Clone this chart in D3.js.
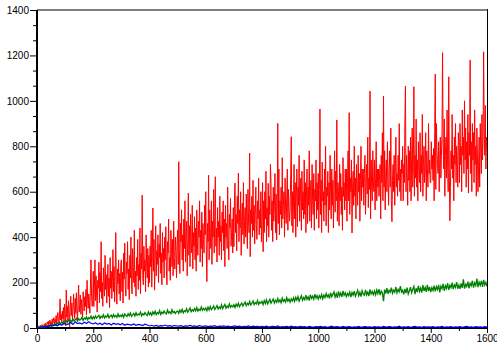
<!DOCTYPE html>
<html>
<head>
<meta charset="utf-8">
<script src="https://cdn.jsdelivr.net/npm/d3@7"></script>
<style>
  html, body { margin: 0; padding: 0; background: #ffffff; }
  svg { display: block; }
  .tick text { font-family: "Liberation Sans", Arial, Helvetica, sans-serif; font-size: 10px; fill: #000; }
</style>
</head>
<body>
<svg id="chart" width="497" height="347"></svg>
<script>
// Sample spacing (x units) for each series
const redStep = 2;
const greenStep = 4;
const blueStep = 8;

// Red series, one value every 2 x units from 0 to 1600
const redValues = [
  0,4,2,9,1,6,12,3,8,15,5,11,2,18,9,22,14,6,25,17,30,10,21,35,13,
  28,8,40,19,33,46,12,38,24,55,20,44,68,30,15,52,128,36,60,22,74,41,90,18,105,
  62,10,167,48,95,30,120,75,5,88,140,55,110,36,72,150,98,42,130,64,155,84,28,118,189,
  70,102,145,60,125,90,48,160,112,75,138,95,170,58,210,128,86,150,110,65,190,300,140,95,120,
  250,95,180,300,120,230,150,70,210,175,290,110,245,160,380,130,200,95,265,185,140,320,170,235,110,
  190,280,140,220,90,310,175,250,130,205,345,160,270,115,230,420,185,105,260,195,300,150,240,120,280,
  300,160,245,110,330,215,374,180,140,290,240,380,170,260,125,320,220,400,190,150,350,270,200,430,180,
  250,140,310,230,390,170,280,210,440,150,330,260,585,230,190,360,250,300,160,410,270,220,350,180,320,
  200,360,270,430,180,320,528,250,390,167,300,450,230,340,280,410,200,370,310,460,240,330,190,420,290,
  350,220,400,300,446,260,190,380,330,480,250,310,210,430,360,270,390,230,470,310,260,400,340,220,380,
  430,280,732,350,240,460,380,520,300,410,250,480,350,560,290,400,470,230,390,594,320,450,270,500,380,
  330,540,260,420,360,490,300,440,250,520,380,320,470,400,560,290,430,350,510,270,460,390,330,540,410,
  600,330,204,460,380,673,300,520,420,350,560,280,470,400,610,330,490,666,360,440,290,530,400,470,320,
  580,380,450,300,510,420,560,340,480,270,540,400,460,350,620,390,300,500,440,570,360,420,480,330,530,
  358,560,638,420,500,340,580,460,682,380,520,440,600,320,490,550,410,640,370,470,530,400,590,450,350,
  610,480,420,770,314,520,460,580,400,650,430,540,370,500,620,450,390,560,480,660,410,520,440,600,380,
  475,640,336,560,420,600,480,690,380,530,450,637,400,580,500,720,640,430,560,380,620,470,540,680,420,
  590,388,520,901,460,700,410,560,500,620,440,750,480,540,600,400,660,520,460,580,700,430,610,520,470,
  520,680,842,450,600,420,560,720,480,640,400,590,700,446,620,540,760,470,580,660,430,690,520,600,480,
  740,500,640,420,580,700,460,620,540,780,470,600,650,440,720,560,500,680,430,610,560,740,480,640,520,
  680,440,610,964,500,650,420,730,560,600,470,700,540,800,450,620,580,690,420,640,520,760,600,480,700,
  540,650,440,620,780,510,690,560,916,470,640,600,450,720,560,680,500,620,430,750,580,640,520,700,560,
  700,470,640,780,560,948,500,660,600,740,418,620,690,540,800,580,660,480,720,620,540,760,600,680,470,
  650,800,560,700,620,700,540,680,760,500,640,720,590,840,530,660,610,1043,480,740,620,560,780,640,600,
  740,520,660,820,560,700,620,700,580,680,720,480,760,640,860,560,1021,620,780,520,680,740,600,820,660,
  540,700,780,620,880,560,468,650,720,600,760,540,700,840,620,680,580,760,650,900,600,700,560,740,680,
  800,560,720,640,900,1065,600,760,680,540,800,650,780,600,840,560,740,880,620,700,1062,580,760,660,920,
  620,740,560,820,700,640,860,600,760,680,940,580,720,800,640,700,860,560,780,700,620,900,680,740,640,
  640,820,700,760,650,790,560,860,1118,610,900,780,720,680,820,600,740,840,660,760,860,1212,800,700,920,
  580,760,840,660,960,720,600,1106,700,472,620,780,700,940,660,760,560,840,720,900,640,800,740,620,860,
  820,640,900,720,800,600,960,760,840,680,1000,740,880,620,820,700,940,594,860,760,1180,680,820,600,900,
  740,860,640,960,720,800,580,880,760,600,700,840,620,900,780,680,940,740,820,1216,880,760,980,700,840,
  780
];

// Green series, one value every 4 x units from 0 to 1600
const greenValues = [
  0,3,1,6,2,8,3,10,5,7,12,6,14,9,16,11,19,13,22,15,24,18,26,20,29,
  23,32,25,36,28,34,27,39,31,36,42,30,41,35,38,47,34,44,39,49,36,46,41,52,40,
  49,41,53,44,50,56,42,51,46,58,44,53,48,60,45,52,57,46,59,49,55,47,62,50,56,
  50,59,47,62,55,51,63,54,66,52,58,64,53,67,56,61,58,70,54,63,57,68,60,55,71,
  58,67,56,71,61,74,59,68,63,77,60,70,64,75,66,62,79,66,71,63,80,67,73,64,72,
  75,65,79,69,82,67,76,72,85,70,78,88,72,81,74,86,76,90,74,83,77,92,78,86,79,
  88,76,92,80,95,81,87,97,82,90,99,84,93,86,102,85,95,104,87,97,90,106,91,99,93,
  102,90,105,95,109,94,103,110,97,106,114,98,109,102,117,101,109,119,103,112,106,121,104,114,109,
  117,103,121,108,124,106,116,126,109,119,128,110,122,113,130,114,124,111,132,117,125,114,134,118,127,
  114,128,119,133,117,135,123,138,118,131,142,122,134,125,145,126,137,121,147,130,140,127,149,132,143,
  127,142,132,147,128,145,134,152,137,146,130,156,138,148,159,136,151,133,161,141,154,137,163,144,155,
  139,152,143,158,136,156,145,162,140,153,166,142,157,138,164,149,144,168,146,158,141,170,150,161,147,
  163,146,167,151,171,145,162,154,118,169,152,175,150,166,158,178,153,167,157,181,155,170,160,184,158,
  166,148,172,154,178,150,164,180,155,170,183,149,175,158,186,161,176,156,189,163,179,159,190,162,181,
  158,178,165,187,161,182,169,190,157,184,173,194,164,186,174,197,168,188,177,200,171,190,179,202,173,
  189,172,196,177,214,173,192,182,204,175,197,186,208,178,199,187,218,180,202,188,207,181,212,189,201,183
];

// Blue series, one value every 8 x units from 0 to 1600
const blueValues = [
  0,2,5,3,8,6,11,9,14,10,17,12,20,15,18,24,16,27,19,22,17,25,20,28,21,
  18,23,16,21,14,22,17,20,13,21,16,19,14,20,12,17,15,13,18,12,16,14,11,17,13,
  9,12,8,11,7,10,9,13,8,10,7,11,9,8,10,6,9,8,11,7,9,6,10,8,7,
  9,6,8,7,10,5,8,7,9,6,8,5,7,9,6,8,5,7,6,9,5,8,6,7,5,
  7,5,8,4,6,7,5,9,4,6,5,7,4,8,5,6,4,7,5,6,3,7,5,4,6,
  5,7,4,6,3,5,8,4,6,5,3,7,4,5,6,3,5,4,7,3,5,6,4,5,3,
  6,4,5,3,7,4,5,6,3,5,4,8,3,5,4,6,3,5,7,4,5,3,6,4,5,
  4,6,3,5,4,7,3,5,4,6,3,5,4,6,3,5,7,4,5,3,6,4,5,3,6,
  4
];

// Axis ticks
const xTickValues = [0, 200, 400, 600, 800, 1000, 1200, 1400, 1600];
const xMinorTickValues = [100, 300, 500, 700, 900, 1100, 1300, 1500];
const yTickValues = [0, 200, 400, 600, 800, 1000, 1200, 1400];
const ySubdivisions = 3;

const width = 497, height = 347;
const margin = { top: 10, right: 10, bottom: 19, left: 37 };

const svg = d3.select("#chart");

const x = d3.scaleLinear()
  .domain([0, 1600])
  .range([margin.left, width - margin.right]);

const y = d3.scaleLinear()
  .domain([0, 1400])
  .range([height - margin.bottom, margin.top]);

const toPoints = (values, step) => values.map((v, i) => [i * step, v]);

const line = d3.line()
  .x(d => x(d[0]))
  .y(d => y(d[1]));

svg.append("defs").append("clipPath").attr("id", "plot-clip")
  .append("rect")
  .attr("x", margin.left).attr("y", margin.top)
  .attr("width", width - margin.left - margin.right)
  .attr("height", height - margin.top - margin.bottom);

// Frame: grey top edge, black right edge
svg.append("line")
  .attr("x1", margin.left).attr("x2", width - margin.right)
  .attr("y1", margin.top).attr("y2", margin.top)
  .attr("stroke", "#808080").attr("stroke-width", 2);
svg.append("line")
  .attr("x1", width - margin.right + 0.5).attr("x2", width - margin.right + 0.5)
  .attr("y1", margin.top - 1).attr("y2", height - margin.bottom)
  .attr("stroke", "#000").attr("stroke-width", 1);

// Left and bottom axis lines
svg.append("line")
  .attr("x1", margin.left).attr("x2", margin.left)
  .attr("y1", margin.top).attr("y2", height - margin.bottom + 1)
  .attr("stroke", "#000").attr("stroke-width", 2);
svg.append("line")
  .attr("x1", margin.left).attr("x2", width - margin.right)
  .attr("y1", height - margin.bottom).attr("y2", height - margin.bottom)
  .attr("stroke", "#000").attr("stroke-width", 2);

const series = [
  { values: redValues, step: redStep, color: "#ff0000", width: 1 },
  { values: greenValues, step: greenStep, color: "#008000", width: 1.3 },
  { values: blueValues, step: blueStep, color: "#0000ff", width: 1.2 }
];

const plot = svg.append("g").attr("clip-path", "url(#plot-clip)");
plot.selectAll("path.series")
  .data(series)
  .join("path")
  .attr("class", "series")
  .attr("fill", "none")
  .attr("stroke", d => d.color)
  .attr("stroke-width", d => d.width)
  .attr("stroke-linejoin", "miter")
  .attr("d", d => line(toPoints(d.values, d.step)));

// Minor ticks
const yMinorTickValues = [];
for (let i = 0; i < yTickValues.length - 1; i++) {
  const a = yTickValues[i], b = yTickValues[i + 1];
  for (let k = 1; k < ySubdivisions; k++) yMinorTickValues.push(a + (b - a) * k / ySubdivisions);
}

const xAxisG = svg.append("g").attr("transform", `translate(0,${height - margin.bottom})`);
xAxisG.append("g")
  .call(d3.axisBottom(x).tickValues(xMinorTickValues).tickSize(3).tickFormat(""))
  .call(g => g.select(".domain").remove());
xAxisG.append("g")
  .call(d3.axisBottom(x).tickValues(xTickValues).tickSize(5).tickPadding(2).tickFormat(d3.format("d")))
  .call(g => g.select(".domain").remove());

const yAxisG = svg.append("g").attr("transform", `translate(${margin.left},0)`);
yAxisG.append("g")
  .call(d3.axisLeft(y).tickValues(yMinorTickValues).tickSize(4).tickFormat(""))
  .call(g => g.select(".domain").remove());
yAxisG.append("g")
  .call(d3.axisLeft(y).tickValues(yTickValues).tickSize(7).tickPadding(1).tickFormat(d3.format("d")))
  .call(g => g.select(".domain").remove());

svg.selectAll(".tick line").attr("stroke", "#000");
</script>
</body>
</html>
